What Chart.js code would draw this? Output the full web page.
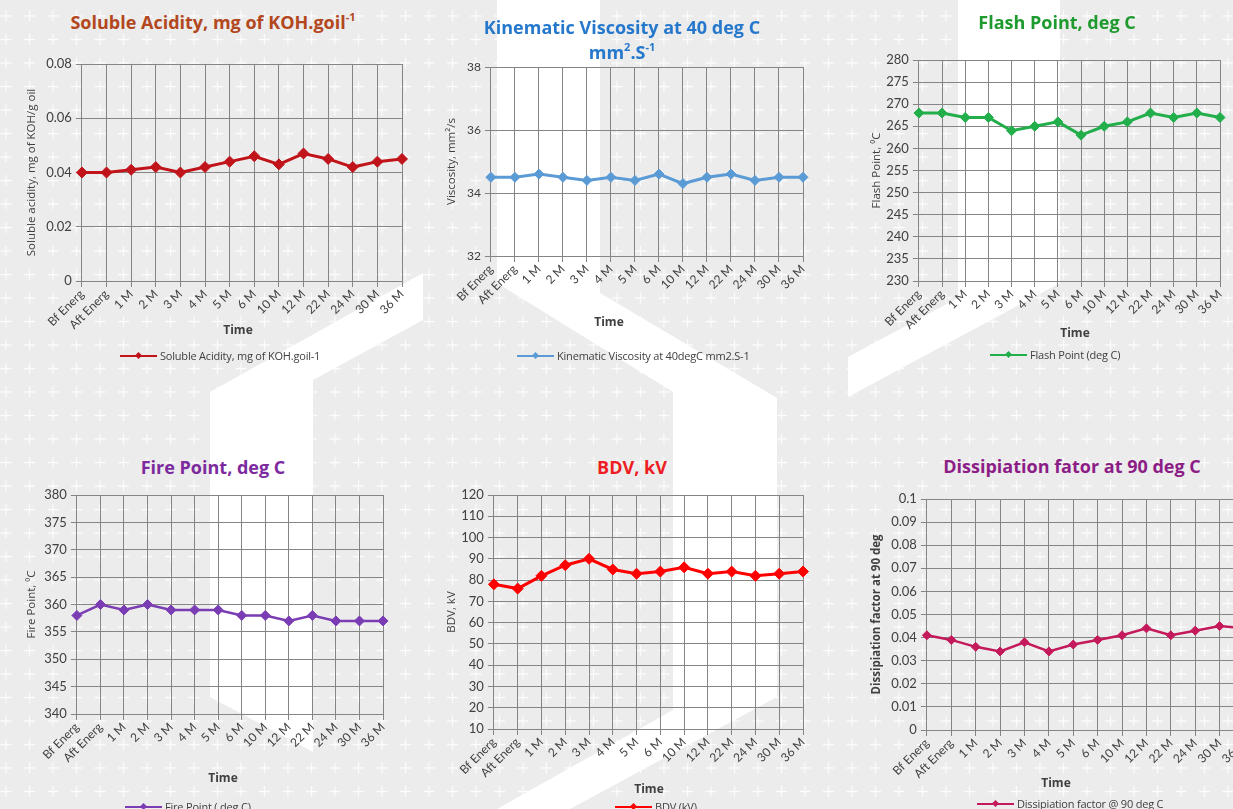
<!DOCTYPE html>
<html>
<head>
<meta charset="utf-8">
<title>Transformer oil condition monitoring</title>
<script src="https://cdn.jsdelivr.net/npm/chart.js@4.4.1/dist/chart.umd.min.js"></script>
<style>
  html, body { margin: 0; padding: 0; }
  body { width: 1233px; height: 809px; overflow: hidden; position: relative; background: #ececec;
         font-family: "Open Sans", Lato, "DejaVu Sans", sans-serif; }
  #bg { position: absolute; left: 0; top: 0; }
  canvas.plot { position: absolute; }
  .ttl { position: absolute; width: 460px; text-align: center; font-weight: bold; font-size: 18px;
         line-height: 25px; white-space: nowrap; }
  .ttl sup { font-size: 11px; line-height: 0; position: relative; top: -1px; }
  .xt { position: absolute; width: 80px; text-align: center; font-weight: bold; font-size: 12px;
        color: #404040; line-height: 14px; }
  .lg { position: absolute; font-size: 11px; color: #404040; white-space: nowrap; height: 12px;
        line-height: 12px; display: flex; align-items: center; letter-spacing: -0.2px; }
  .lg i { display: inline-block; position: relative; width: 37px; height: 2.5px; margin-right: 3px; }
  .lg i b { position: absolute; left: 15.5px; top: -2.2px; width: 5px; height: 5px;
            transform: rotate(45deg); background: inherit; }
</style>
</head>
<body>
<svg id="bg" width="1233" height="809" xmlns="http://www.w3.org/2000/svg">
  <defs>
    <pattern id="plus" width="23.5" height="23.5" patternUnits="userSpaceOnUse" x="0.5" y="10.5">
      <path d="M0 5.5 H11 M5.5 0 V11" stroke="#ffffff" stroke-width="1" opacity="0.95"/>
    </pattern>
  </defs>
  <rect width="1233" height="809" fill="#ececec"/>
  <rect width="1233" height="809" fill="url(#plus)"/>
  <polygon fill="#ffffff" points="210,392 423,273 423,320 313,380 313,752 210,697"/>
  <polygon fill="#ffffff" points="497,0 600,0 600,293 777,398 777,697 570,809 497,809 673,710 673,392 497,283"/>
  <polygon fill="#ffffff" points="958,0 1060,0 1060,283 848,397 848,357 958,298"/>
</svg>

<script>
// Sampling intervals (before / after energisation, then months in service)
const timeLabels = ['Bf Energ', 'Aft Energ', '1 M', '2 M', '3 M', '4 M', '5 M', '6 M',
                    '10 M', '12 M', '22 M', '24 M', '30 M', '36 M'];

// Measured oil properties
const solubleAcidity = [0.040, 0.040, 0.041, 0.042, 0.040, 0.042, 0.044, 0.046, 0.043, 0.047, 0.045, 0.042, 0.044, 0.045];
const viscosity      = [34.5, 34.5, 34.6, 34.5, 34.4, 34.5, 34.4, 34.6, 34.3, 34.5, 34.6, 34.4, 34.5, 34.5];
const flashPoint     = [268, 268, 267, 267, 264, 265, 266, 263, 265, 266, 268, 267, 268, 267];
const firePoint      = [358, 360, 359, 360, 359, 359, 359, 358, 358, 357, 358, 357, 357, 357];
const bdv            = [78, 76, 82, 87, 90, 85, 83, 84, 86, 83, 84, 82, 83, 84];
const dissipation    = [0.041, 0.039, 0.036, 0.034, 0.038, 0.034, 0.037, 0.039, 0.041, 0.044, 0.041, 0.043, 0.045, 0.044];

// Value-axis tick labels
const acidityTicks     = [0, 0.02, 0.04, 0.06, 0.08];
const viscosityTicks   = [32, 34, 36, 38];
const flashTicks       = [230, 235, 240, 245, 250, 255, 260, 265, 270, 275, 280];
const fireTicks        = [340, 345, 350, 355, 360, 365, 370, 375, 380];
const bdvTicks         = [10, 20, 30, 40, 50, 60, 70, 80, 90, 100, 110, 120];
const dissipationTicks = [0, 0.01, 0.02, 0.03, 0.04, 0.05, 0.06, 0.07, 0.08, 0.09, 0.1];

const FONT = 'Lato, "Open Sans", "DejaVu Sans", sans-serif';
const TITLE_FONT = '"Open Sans", Lato, "DejaVu Sans", sans-serif';
const GRID = '#858585';
const TEXT = '#404040';

const panels = [
  { title: 'Soluble Acidity, mg of KOH.goil<sup>-1</sup>', titleColor: '#b3471d', titleX: 213, titleY: 22,
    data: solubleAcidity, ticks: acidityTicks, color: '#c0141a', lw: 3, r: 5.5, tickSize: 13,
    yTitle: 'Soluble acidity, mg of KOH/g oil', yTitleBold: false, yTitleX: 32,
    box: { L: 82, T: 64, R: 402, B: 281 }, timeX: 238, timeY: 330,
    legend: 'Soluble Acidity, mg of KOH.goil-1', legX: 120, legY: 356 },
  { title: 'Kinematic Viscosity at 40 deg C<br>mm<sup>2</sup>.S<sup>-1</sup>', titleColor: '#2678cc', titleX: 622, titleY: 27,
    data: viscosity, ticks: viscosityTicks, color: '#5b9bd5', lw: 3, r: 5, tickSize: 12,
    yTitle: 'Viscosity, mm\u00b2/s', yTitleBold: false, yTitleX: 452,
    box: { L: 491, T: 67, R: 803, B: 256 }, timeX: 609, timeY: 322,
    legend: 'Kinematic Viscosity at 40degC mm2.S-1', legX: 517, legY: 356 },
  { title: 'Flash Point, deg C', titleColor: '#1e9a2e', titleX: 1057, titleY: 22,
    data: flashPoint, ticks: flashTicks, color: '#22ae4b', lw: 3, r: 5, tickSize: 13,
    yTitle: 'Flash Point, \u2070C', yTitleBold: false, yTitleX: 877,
    box: { L: 919, T: 60, R: 1220, B: 281 }, timeX: 1075, timeY: 333,
    legend: 'Flash Point (deg C)', legX: 990, legY: 355 },
  { title: 'Fire Point, deg C', titleColor: '#7c2a9e', titleX: 213, titleY: 467,
    data: firePoint, ticks: fireTicks, color: '#7b3db3', lw: 2.5, r: 5, tickSize: 13,
    yTitle: 'Fire Point, \u2070C', yTitleBold: false, yTitleX: 32,
    box: { L: 77, T: 495, R: 383, B: 714 }, timeX: 223, timeY: 778,
    legend: 'Fire Point ( deg C)', legX: 125, legY: 807 },
  { title: 'BDV, kV', titleColor: '#ee1d23', titleX: 632, titleY: 467,
    data: bdv, ticks: bdvTicks, color: '#ff0000', lw: 3, r: 5.5, tickSize: 13,
    yTitle: 'BDV, kV', yTitleBold: false, yTitleX: 452,
    box: { L: 494, T: 495, R: 803, B: 729 }, timeX: 649, timeY: 789,
    legend: 'BDV (kV)', legX: 615, legY: 807 },
  { title: 'Dissipiation fator at 90 deg C', titleColor: '#8c1d87', titleX: 1072, titleY: 466,
    data: dissipation, ticks: dissipationTicks, color: '#c41a5c', lw: 2.5, r: 4.5, tickSize: 13,
    yTitle: 'Dissipiation factor at 90 deg', yTitleBold: true, yTitleX: 877,
    box: { L: 927, T: 499, R: 1244, B: 730 }, timeX: 1056, timeY: 783,
    legend: 'Dissipiation factor @ 90 deg C', legX: 977, legY: 804 }
];

const fmt = v => String(+Number(v).toFixed(4));

function addDiv(cls, html, css) {
  const d = document.createElement('div');
  d.className = cls;
  d.innerHTML = html;
  Object.assign(d.style, css);
  document.body.appendChild(d);
  return d;
}

panels.forEach(p => {
  const b = p.box;
  const yTitleSize = 11.5;
  const lh = yTitleSize * 1.2;
  const W = b.L - p.yTitleX + lh / 2;          // value-axis band width
  const H = 66;                                  // category-axis band height
  const pad = { left: 10, top: 12, right: 26, bottom: 4 };

  const canvas = document.createElement('canvas');
  canvas.className = 'plot';
  const cw = Math.round((b.R - b.L) + W + pad.left + pad.right);
  const ch = Math.round((b.B - b.T) + H + pad.top + pad.bottom);
  canvas.width = cw; canvas.height = ch;
  canvas.style.width = cw + 'px'; canvas.style.height = ch + 'px';
  canvas.style.left = (b.L - W - pad.left) + 'px';
  canvas.style.top = (b.T - pad.top) + 'px';
  document.body.appendChild(canvas);

  new Chart(canvas, {
    type: 'line',
    data: {
      labels: timeLabels,
      datasets: [{
        data: p.data,
        borderColor: p.color,
        backgroundColor: p.color,
        borderWidth: p.lw,
        pointStyle: 'rectRot',
        pointRadius: p.r,
        pointHoverRadius: p.r,
        pointBorderWidth: 1,
        tension: 0,
        fill: false
      }]
    },
    options: {
      responsive: false,
      animation: false,
      events: [],
      layout: { padding: pad },
      plugins: { legend: { display: false }, title: { display: false }, tooltip: { enabled: false } },
      scales: {
        x: {
          type: 'category',
          offset: false,
          grid: { color: GRID, lineWidth: 1, tickLength: 6, offset: false },
          border: { color: GRID, width: 1 },
          ticks: { autoSkip: false, minRotation: 45, maxRotation: 45, padding: 0,
                   font: { family: FONT, size: 12 }, color: TEXT },
          afterFit(s) { s.height = H; s.paddingLeft = 0; s.paddingRight = 0; s.paddingTop = 0; s.paddingBottom = 0; }
        },
        y: {
          type: 'linear',
          min: p.ticks[0],
          max: p.ticks[p.ticks.length - 1],
          afterBuildTicks(s) { s.ticks = p.ticks.map(v => ({ value: v })); },
          grid: { color: GRID, lineWidth: 1, tickLength: 6 },
          border: { color: GRID, width: 1 },
          ticks: { padding: 4, font: { family: FONT, size: p.tickSize }, color: TEXT, callback: v => fmt(v) },
          title: { display: true, text: p.yTitle, padding: 0, color: TEXT,
                   font: { family: TITLE_FONT, size: yTitleSize, weight: p.yTitleBold ? 'bold' : 'normal' } },
          afterFit(s) { s.width = W; s.paddingLeft = 0; s.paddingRight = 0; s.paddingTop = 0; s.paddingBottom = 0; }
        }
      }
    }
  });

  addDiv('ttl', p.title, { left: (p.titleX - 230) + 'px', top: (p.titleY - 12.5) + 'px', color: p.titleColor });
  addDiv('xt', 'Time', { left: (p.timeX - 40) + 'px', top: (p.timeY - 7) + 'px' });
  addDiv('lg', '<i style="background:' + p.color + '"><b></b></i>' + p.legend,
         { left: p.legX + 'px', top: (p.legY - 6) + 'px' });
});
</script>
</body>
</html>
